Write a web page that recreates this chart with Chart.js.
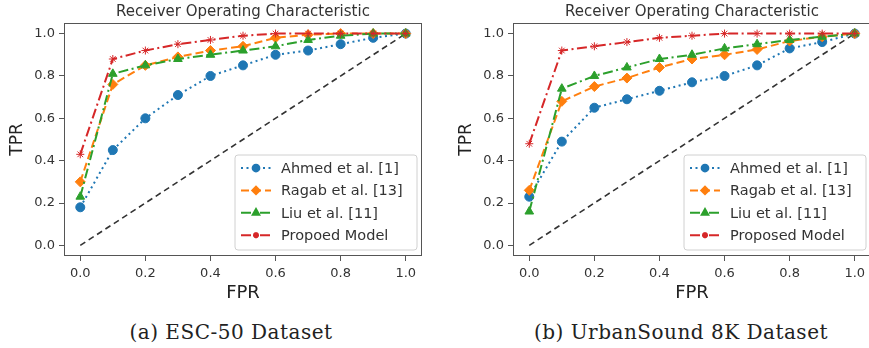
<!DOCTYPE html>
<html>
<head>
<meta charset="utf-8">
<script src="https://cdn.jsdelivr.net/npm/chart.js@4.4.1/dist/chart.umd.min.js"></script>
<style>
  html, body { margin: 0; padding: 0; background: #fff; overflow: hidden; }
  body { width: 869px; height: 348px; position: relative; }
  .box { position: absolute; top: 0; height: 310px; }
  #boxA { left: 0; width: 434px; }
  #boxB { left: 449px; width: 430px; }
  .caption {
    position: absolute; top: 319px; font-family: "DejaVu Serif", serif;
    font-size: 20px; line-height: 26px; letter-spacing: 0.5px; color: #222;
    text-align: center; width: 340px;
  }
</style>
</head>
<body>
<div class="box" id="boxA"><canvas id="chartA"></canvas></div>
<div class="box" id="boxB"><canvas id="chartB"></canvas></div>
<div class="caption" style="left:61px">(a) ESC-50 Dataset</div>
<div class="caption" style="left:511px">(b) UrbanSound 8K Dataset</div>
<script>
const fpr = [0, 0.1, 0.2, 0.3, 0.4, 0.5, 0.6, 0.7, 0.8, 0.9, 1.0];
const tickValues = [0, 0.2, 0.4, 0.6, 0.8, 1.0];
const tickLabels = ["0.0", "0.2", "0.4", "0.6", "0.8", "1.0"];

// ESC-50
const ahmedA = [0.18, 0.45, 0.60, 0.71, 0.80, 0.85, 0.90, 0.92, 0.95, 0.98, 1.0];
const ragabA = [0.30, 0.76, 0.85, 0.89, 0.92, 0.94, 0.98, 0.995, 1.0, 1.0, 1.0];
const liuA = [0.23, 0.81, 0.85, 0.88, 0.90, 0.92, 0.94, 0.97, 0.99, 1.0, 1.0];
const propA = [0.43, 0.88, 0.92, 0.95, 0.97, 0.99, 1.0, 1.0, 1.0, 1.0, 1.0];

// UrbanSound 8K
const ahmedB = [0.23, 0.49, 0.65, 0.69, 0.73, 0.77, 0.80, 0.85, 0.93, 0.96, 1.0];
const ragabB = [0.26, 0.68, 0.75, 0.79, 0.84, 0.88, 0.90, 0.925, 0.965, 0.985, 1.0];
const liuB = [0.16, 0.74, 0.80, 0.84, 0.88, 0.90, 0.93, 0.95, 0.97, 0.985, 1.0];
const propB = [0.48, 0.92, 0.94, 0.96, 0.98, 0.99, 1.0, 1.0, 1.0, 1.0, 1.0];

const diagX = [0, 1];
const diagY = [0, 1];

const labelsA = ["Ahmed et al. [1]", "Ragab et al. [13]", "Liu et al. [11]", "Propoed Model"];
const labelsB = ["Ahmed et al. [1]", "Ragab et al. [13]", "Liu et al. [11]", "Proposed Model"];
const titleText = "Receiver Operating Characteristic";

const FONT = "'DejaVu Sans', sans-serif";

function pts(xs, ys) {
  return xs.map((x, i) => ({ x: x, y: ys[i] }));
}

// title over the plot, frame (all four spines) + legend box inside plot
const framePlugin = {
  id: "frame",
  afterDatasetsDraw(chart) {
    const { ctx, chartArea: a } = chart;
    ctx.save();
    ctx.fillStyle = "#333";
    ctx.font = "15px " + FONT;
    ctx.textAlign = "center";
    ctx.textBaseline = "middle";
    ctx.fillText(titleText, (a.left + a.right) / 2, 12.5);
    ctx.textAlign = "left";

    ctx.strokeStyle = "#555";
    ctx.lineWidth = 1;
    ctx.strokeRect(a.left + 0.5, a.top + 0.5, a.right - a.left - 1, a.bottom - a.top - 1);

    // legend
    const w = 182, h = 95;
    const x0 = a.right - 5 - w, y0 = a.bottom - 6 - h;
    ctx.fillStyle = "rgba(255,255,255,0.85)";
    ctx.strokeStyle = "#d0d0d0";
    ctx.beginPath();
    ctx.roundRect(x0, y0, w, h, 3);
    ctx.fill();
    ctx.stroke();
    const items = chart.data.datasets.filter(d => d.label);
    items.forEach((d, i) => {
      const y = y0 + 13 + i * 22.4;
      ctx.strokeStyle = d.borderColor;
      ctx.lineWidth = 2;
      ctx.setLineDash(d.borderDash || []);
      ctx.beginPath();
      ctx.moveTo(x0 + 6, y);
      ctx.lineTo(x0 + 36, y);
      ctx.stroke();
      ctx.setLineDash([]);
      ctx.fillStyle = d.borderColor;
      ctx.strokeStyle = d.borderColor;
      Chart.helpers.drawPoint(ctx, { pointStyle: d.pointStyle, radius: d.pointRadius * 0.75, rotation: 0, borderWidth: 1 }, x0 + 21, y);
      ctx.fillStyle = "#333";
      ctx.font = "14.5px " + FONT;
      ctx.textBaseline = "middle";
      ctx.fillText(d.label, x0 + 46, y + 1);
    });
    ctx.restore();
  }
};

function series(label, ys, color, dash, style, radius, order) {
  return {
    label: label,
    data: pts(fpr, ys),
    borderColor: color,
    backgroundColor: color,
    borderWidth: 2,
    borderDash: dash,
    pointStyle: style,
    pointRadius: radius,
    pointBorderWidth: 1,
    pointHoverRadius: radius,
    order: order,
    tension: 0
  };
}

function makeChart(id, labels, a, r, l, p, padRight) {
  const ctx = document.getElementById(id).getContext("2d");
  return new Chart(ctx, {
    type: "line",
    data: {
      datasets: [
        series(labels[0], a, "#1f77b4", [2, 3.5], "circle", 4.5, 4),
        series(labels[1], r, "#ff7f0e", [8, 4], "rectRot", 5, 3),
        series(labels[2], l, "#2ca02c", [10, 3.5, 2, 3.5], "triangle", 5, 2),
        series(labels[3], p, "#d62728", [10, 3.5, 2, 3.5], "star", 4, 1),
        {
          label: "",
          data: pts(diagX, diagY),
          borderColor: "#333",
          borderWidth: 1.6,
          borderDash: [6, 4],
          pointRadius: 0,
          order: 5
        }
      ]
    },
    options: {
      responsive: true,
      maintainAspectRatio: false,
      animation: false,
      layout: { padding: { left: 0, right: padRight, top: 23, bottom: 0 } },
      plugins: {
        legend: { display: false },
        tooltip: { enabled: false },
        title: { display: false }
      },
      scales: {
        x: {
          type: "linear",
          min: -0.05,
          max: 1.05,
          afterBuildTicks: s => { s.ticks = tickValues.map(v => ({ value: v })); },
          afterFit: s => { s.height = 54; },
          grid: { drawOnChartArea: false, drawTicks: true, tickLength: 5, color: "#555" },
          border: { display: false },
          ticks: {
            color: "#333",
            font: { family: FONT, size: 13 },
            padding: 5,
            maxRotation: 0,
            callback: (v, i) => tickLabels[i]
          },
          title: {
            display: true,
            text: "FPR",
            color: "#222",
            font: { family: FONT, size: 18 },
            padding: 6
          }
        },
        y: {
          type: "linear",
          min: -0.05,
          max: 1.05,
          afterBuildTicks: s => { s.ticks = tickValues.map(v => ({ value: v })); },
          afterFit: s => { s.width = 64; },
          grid: { drawOnChartArea: false, drawTicks: true, tickLength: 5, color: "#555" },
          border: { display: false },
          ticks: {
            color: "#333",
            font: { family: FONT, size: 13 },
            padding: 4,
            callback: (v, i) => tickLabels[i]
          },
          title: {
            display: true,
            text: "TPR",
            color: "#222",
            font: { family: FONT, size: 17 },
            padding: 7
          }
        }
      }
    },
    plugins: [framePlugin]
  });
}

makeChart("chartA", labelsA, ahmedA, ragabA, liuA, propA, 12);
makeChart("chartB", labelsB, ahmedB, ragabB, liuB, propB, 8);
</script>
</body>
</html>
